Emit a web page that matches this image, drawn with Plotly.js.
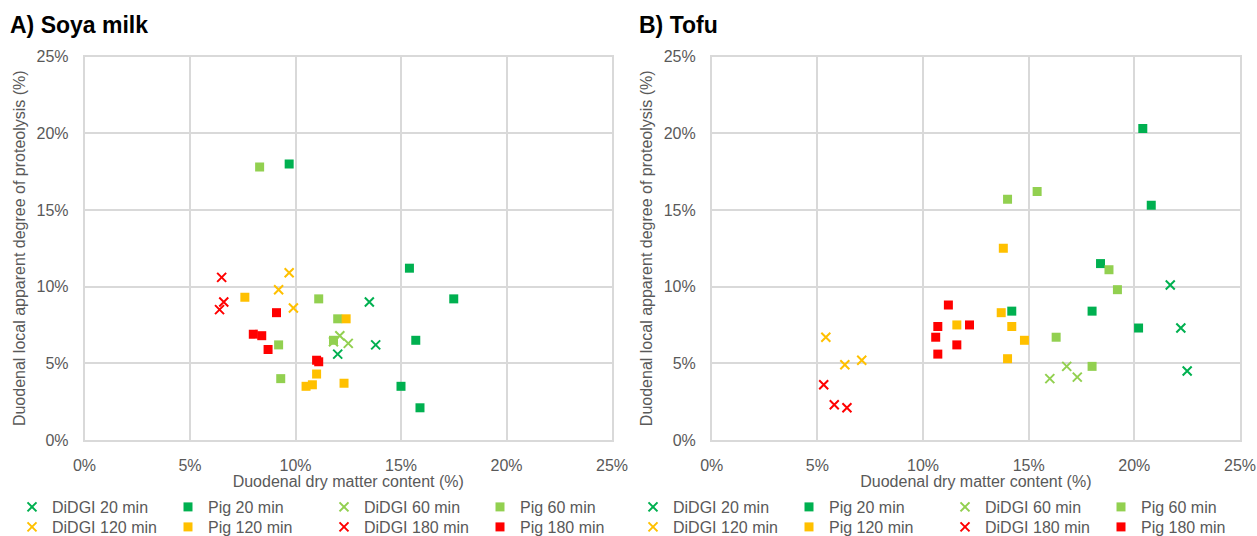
<!DOCTYPE html>
<html>
<head>
<meta charset="utf-8">
<script src="https://cdn.plot.ly/plotly-3.0.1.min.js"></script>
<style>html,body{margin:0;padding:0;background:#fff;}#chart{width:1257px;height:536px;}</style>
</head>
<body>
<div id="chart"></div>
<script>
// ---- Data (values in %) ----
// Panel A: Soya milk
const aDidgi20X = [13.5, 13.8, 12.0];
const aDidgi20Y = [9.0, 6.2, 5.6];
const aPig20X = [9.7, 15.4, 17.5, 15.7, 15.0, 15.9];
const aPig20Y = [18.0, 11.2, 9.2, 6.5, 3.5, 2.1];
const aDidgi60X = [12.1, 12.5, 11.8];
const aDidgi60Y = [6.8, 6.3, 6.4];
const aPig60X = [8.3, 11.1, 12.0, 11.8, 9.2, 9.3];
const aPig60Y = [17.8, 9.2, 7.9, 6.5, 6.2, 4.0];
const aDidgi120X = [9.7, 9.2, 9.9];
const aDidgi120Y = [10.9, 9.8, 8.6];
const aPig120X = [7.6, 12.4, 11.0, 10.8, 10.5, 12.3];
const aPig120Y = [9.3, 7.9, 4.3, 3.6, 3.5, 3.7];
const aDidgi180X = [6.5, 6.6, 6.4];
const aDidgi180Y = [10.6, 9.0, 8.5];
const aPig180X = [9.1, 8.0, 8.4, 8.7, 11.0, 11.1];
const aPig180Y = [8.3, 6.9, 6.8, 5.9, 5.2, 5.1];

// Panel B: Tofu
const bDidgi20X = [21.7, 22.2, 22.5];
const bDidgi20Y = [10.1, 7.3, 4.5];
const bPig20X = [20.4, 20.8, 18.4, 14.2, 18.0, 20.2];
const bPig20Y = [20.3, 15.3, 11.5, 8.4, 8.4, 7.3];
const bDidgi60X = [16.8, 16.0, 17.3];
const bDidgi60Y = [4.8, 4.0, 4.1];
const bPig60X = [14.0, 15.4, 18.8, 19.2, 16.3, 18.0];
const bPig60Y = [15.7, 16.2, 11.1, 9.8, 6.7, 4.8];
const bDidgi120X = [5.4, 6.3, 7.1];
const bDidgi120Y = [6.7, 4.9, 5.2];
const bPig120X = [13.8, 13.7, 14.2, 14.8, 14.0, 11.6];
const bPig120Y = [12.5, 8.3, 7.4, 6.5, 5.3, 7.5];
const bDidgi180X = [5.3, 5.8, 6.4];
const bDidgi180Y = [3.6, 2.3, 2.1];
const bPig180X = [11.2, 10.7, 10.6, 10.7, 11.6, 12.2];
const bPig180Y = [8.8, 7.4, 6.7, 5.6, 6.2, 7.5];

const seriesNames = ['DiDGI 20 min', 'Pig 20 min', 'DiDGI 60 min', 'Pig 60 min',
                     'DiDGI 120 min', 'Pig 120 min', 'DiDGI 180 min', 'Pig 180 min'];
const tickVals = [0, 5, 10, 15, 20, 25];
const tickLabels = ['0%', '5%', '10%', '15%', '20%', '25%'];
const panelTitles = ['A) Soya milk', 'B) Tofu'];
const xTitle = 'Duodenal dry matter content (%)';
const yTitle = 'Duodenal local apparent degree of proteolysis (%)';

// ---- Styles ----
const colors = ['#00B050', '#00B050', '#92D050', '#92D050', '#FFC000', '#FFC000', '#FF0000', '#FF0000'];
const isX = [true, false, true, false, true, false, true, false];

const panelA = [[aDidgi20X, aDidgi20Y], [aPig20X, aPig20Y], [aDidgi60X, aDidgi60Y], [aPig60X, aPig60Y],
                [aDidgi120X, aDidgi120Y], [aPig120X, aPig120Y], [aDidgi180X, aDidgi180Y], [aPig180X, aPig180Y]];
const panelB = [[bDidgi20X, bDidgi20Y], [bPig20X, bPig20Y], [bDidgi60X, bDidgi60Y], [bPig60X, bPig60Y],
                [bDidgi120X, bDidgi120Y], [bPig120X, bPig120Y], [bDidgi180X, bDidgi180Y], [bPig180X, bPig180Y]];

function makeTraces(panel, xa, ya, legRow1, legRow2) {
  return panel.map((d, i) => ({
    type: 'scatter', mode: 'markers',
    x: d[0], y: d[1], name: seriesNames[i],
    xaxis: xa, yaxis: ya,
    legend: i < 4 ? legRow1 : legRow2,
    hoverinfo: 'x+y+name',
    marker: isX[i]
      ? {symbol: 'x-thin', size: 9, color: colors[i], line: {color: colors[i], width: 2}}
      : {symbol: 'square', size: 9, color: colors[i], line: {width: 0}}
  }));
}

const traces = makeTraces(panelA, 'x', 'y', 'legend', 'legend2')
  .concat(makeTraces(panelB, 'x2', 'y2', 'legend3', 'legend4'));

const W = 1257, H = 536, MB = 96, PH = H - MB;
const fontFam = 'Liberation Sans, Arial, sans-serif';
const axisFont = {family: fontFam, size: 16, color: '#595959'};

function xAxis(domain, anchor) {
  return {
    domain: domain, anchor: anchor, range: [0, 25], tickmode: 'array', tickvals: tickVals, ticktext: tickLabels,
    showgrid: true, gridcolor: '#D9D9D9', gridwidth: 1.5, zeroline: false,
    showline: true, mirror: true, linecolor: '#D9D9D9', linewidth: 1.5,
    ticks: '', ticklabelstandoff: 10, tickfont: axisFont, automargin: false, fixedrange: true,
    title: {text: xTitle, font: axisFont, standoff: 21}
  };
}
function yAxis(domain, anchor) {
  return {
    domain: domain, anchor: anchor, range: [0, 25], tickmode: 'array', tickvals: tickVals, ticktext: tickLabels,
    showgrid: true, gridcolor: '#D9D9D9', gridwidth: 1.5, zeroline: false,
    showline: true, mirror: true, linecolor: '#D9D9D9', linewidth: 1.5,
    ticks: '', ticklabelstandoff: 11, tickfont: axisFont, automargin: false, fixedrange: true,
    title: {text: yTitle, font: axisFont, standoff: 7}
  };
}

const yDom = [0, (PH - 56.5) / PH];
function legendAt(xpx, ypx) {
  return {
    orientation: 'h', xref: 'paper', yref: 'container',
    x: xpx / W, xanchor: 'left', y: (H - ypx) / H, yanchor: 'middle',
    entrywidth: 111, entrywidthmode: 'pixels', bgcolor: 'rgba(0,0,0,0)', borderwidth: 0,
    font: axisFont, itemclick: false, itemdoubleclick: false, tracegroupgap: 0
  };
}

const layout = {
  width: W, height: H,
  margin: {l: 0, r: 0, t: 0, b: MB},
  paper_bgcolor: '#ffffff', plot_bgcolor: '#ffffff',
  font: {family: fontFam, color: '#595959'},
  showlegend: true,
  title: {text: '<b>' + panelTitles[0] + '</b>', x: 10 / W, xanchor: 'left', y: (H - 25) / H, yanchor: 'middle',
          font: {family: fontFam, size: 23, color: '#000000'}},
  annotations: [{
    text: '<b>' + panelTitles[1] + '</b>', xref: 'paper', yref: 'paper', showarrow: false,
    x: 637 / W, xanchor: 'left', y: (PH - 25) / PH, yanchor: 'middle',
    font: {family: fontFam, size: 23, color: '#000000'}
  }],
  xaxis: xAxis([84.5 / W, 612 / W], 'y'),
  yaxis: yAxis(yDom, 'x'),
  xaxis2: xAxis([711.7 / W, 1240 / W], 'y2'),
  yaxis2: yAxis(yDom, 'x2'),
  legend: legendAt(12, 507),
  legend2: legendAt(12, 527),
  legend3: legendAt(637, 507),
  legend4: legendAt(637, 527)
};

Plotly.newPlot('chart', traces, layout, {displayModeBar: false, responsive: false});
</script>
</body>
</html>
